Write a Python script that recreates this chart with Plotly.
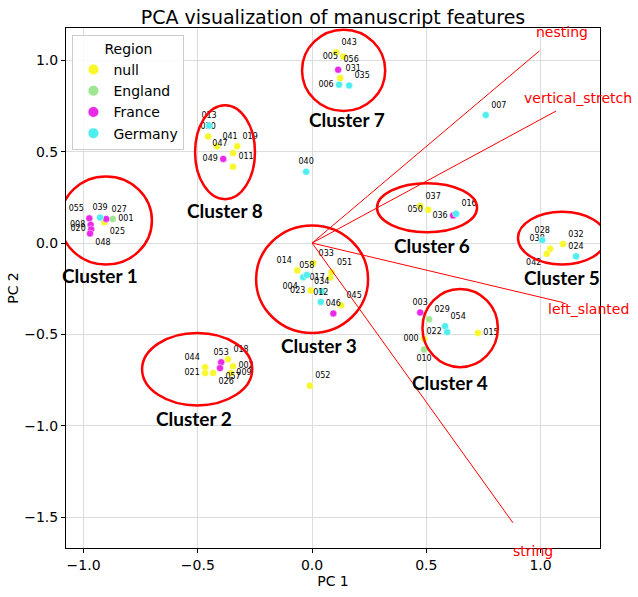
import plotly.graph_objects as go

# ---------------- data ----------------
ids = ["055","039","027","001","025","008","020","048",
       "043","005","056","031","006","035",
       "013","030","041","019","047","049","011",
       "004","058","017","023","034","012","045","046","033","014","051",
       "037","050","036","016",
       "028","032","038","042","024",
       "003","029","054","015","022","000","010",
       "044","053","018","021","057","002","026","009",
       "040","052","007"]
pc1 = [-0.975,-0.928,-0.901,-0.872,-0.909,-0.969,-0.967,-0.972,
       0.105,0.137,0.114,0.123,0.118,0.162,
       -0.451,-0.455,-0.416,-0.328,-0.346,-0.389,-0.346,
       -0.039,-0.023,0.079,-0.006,0.042,0.038,0.127,0.093,0.005,-0.065,0.085,
       0.473,0.508,0.617,0.630,
       1.007,1.098,1.042,1.027,1.155,
       0.473,0.512,0.582,0.726,0.591,0.490,0.490,
       -0.468,-0.398,-0.368,-0.468,-0.403,-0.346,-0.433,-0.355,
       -0.026,-0.010,0.760]
pc2 = [0.135,0.139,0.132,0.132,0.114,0.100,0.075,0.052,
       1.044,1.020,0.948,0.902,0.866,0.862,
       0.642,0.583,0.529,0.529,0.492,0.460,0.417,
       -0.187,-0.175,-0.189,-0.260,-0.264,-0.322,-0.341,-0.385,-0.110,-0.150,-0.160,
       0.203,0.182,0.150,0.160,
       0.016,-0.005,-0.032,-0.059,-0.073,
       -0.380,-0.417,-0.455,-0.492,-0.487,-0.524,-0.583,
       -0.679,-0.652,-0.636,-0.711,-0.684,-0.674,-0.711,-0.711,
       0.390,-0.780,0.700]
region = ["France","Germany","France","England","null","France","France","France",
          "null","null","France","null","Germany","Germany",
          "Germany","null","null","null","null","France","null",
          "Germany","Germany","null","null","Germany","Germany","null","France","null","null","null",
          "null","null","France","Germany",
          "Germany","null","null","null","Germany",
          "France","England","Germany","null","Germany","null","England",
          "null","France","null","null","France","null","null","null",
          "Germany","null","Germany"]
text_pos = ["top left","top center","top right","middle right","bottom right","middle left","middle left","bottom right",
            "top right","middle left","top right","top right","middle left","top right",
            "top center","top center","top right","top right","top left","middle left","top right",
            "bottom left","top center","middle left","middle left","top center","top center","top right","top center","top right","top left","top right",
            "top right","middle left","middle left","top right",
            "top center","top right","top left","bottom left","top center",
            "top center","top right","top right","middle right","middle left","middle left","bottom center",
            "top left","top center","top right","middle left","bottom right","middle right","bottom right","middle right",
            "top center","top right","top right"]

regions = ["null","England","France","Germany"]
region_colors = ["#f7f72a","#9ee68f","#e82ae8","#4eeeee"]

# biplot loadings
features = ["nesting","vertical_stretch","left_slanted","string"]
load_x = [0.995, 1.068, 1.100, 0.879]
load_y = [1.051, 0.722, -0.326, -1.530]
label_xshift = [0, -3, 0, 0]

# cluster ellipses (centre, radii) and label anchors
clusters = ["Cluster 1","Cluster 2","Cluster 3","Cluster 4","Cluster 5","Cluster 6","Cluster 7","Cluster 8"]
cl_cx = [-0.902,-0.503,0.000,0.648,1.094,0.503,0.138,-0.381]
cl_cy = [0.123,-0.690,-0.198,-0.465,0.027,0.193,0.944,0.497]
cl_rx = [0.201,0.241,0.245,0.165,0.193,0.219,0.182,0.131]
cl_ry = [0.241,0.198,0.294,0.214,0.144,0.134,0.222,0.257]
cl_lx = [-0.928,-0.516,0.030,0.604,1.094,0.525,0.153,-0.381]
cl_ly = [-0.180,-0.957,-0.558,-0.761,-0.187,-0.011,0.674,0.176]

X_RANGE = [-1.077, 1.26]
Y_RANGE = [-1.668, 1.176]

fig = go.Figure()

for r, c in zip(regions, region_colors):
    idx = [i for i, g in enumerate(region) if g == r]
    fig.add_trace(go.Scatter(
        x=[pc1[i] for i in idx], y=[pc2[i] for i in idx],
        text=[ids[i] for i in idx], textposition=[text_pos[i] for i in idx],
        mode="markers+text", name=r,
        marker=dict(color=c, size=7, line=dict(color="rgba(255,255,255,0.9)", width=0.5)),
        textfont=dict(family="DejaVu Sans", size=8, color="black"),
        cliponaxis=False,
    ))

shapes = []
annotations = []
for fx, fy, name, xs in zip(load_x, load_y, features, label_xshift):
    shapes.append(dict(type="line", xref="x", yref="y", x0=0, y0=0, x1=fx, y1=fy,
                       line=dict(color="red", width=1)))
    # label at 1.1 x the loading, expressed in paper units so it is drawn even outside the axes
    px = (fx * 1.1 - X_RANGE[0]) / (X_RANGE[1] - X_RANGE[0])
    py = (fy * 1.1 - Y_RANGE[0]) / (Y_RANGE[1] - Y_RANGE[0])
    annotations.append(dict(x=px, y=py, xref="paper", yref="paper", text=name, xshift=xs,
                            xanchor="center", yanchor="middle",
                            showarrow=False, font=dict(family="DejaVu Sans", size=14, color="red")))

for name, cx, cy, rx, ry, lx, ly in zip(clusters, cl_cx, cl_cy, cl_rx, cl_ry, cl_lx, cl_ly):
    shapes.append(dict(type="circle", xref="x", yref="y", x0=cx - rx, x1=cx + rx, y0=cy - ry, y1=cy + ry,
                       line=dict(color="red", width=2.5)))
    annotations.append(dict(x=lx, y=ly, xref="x", yref="y", text="<b>" + name + "</b>",
                            xanchor="center", yanchor="middle",
                            showarrow=False, font=dict(family="Lato", size=19, color="black")))

axis_common = dict(showgrid=True, gridcolor="#dcdcdc", gridwidth=1.2, zeroline=False,
                   showline=True, linecolor="black", linewidth=1, mirror=True,
                   ticks="outside", ticklen=4, tickcolor="black",
                   tickfont=dict(family="DejaVu Sans", size=14, color="black"))

fig.update_layout(
    width=638, height=597,
    margin=dict(l=66, r=38, t=28, b=37),
    plot_bgcolor="white", paper_bgcolor="white",
    font=dict(family="DejaVu Sans", color="black"),
    title=dict(text="PCA visualization of manuscript features", xref="paper", x=0.5, xanchor="center",
               yref="container", y=0.982, yanchor="top",
               font=dict(family="DejaVu Sans", size=19, color="black")),
    xaxis=dict(range=X_RANGE, tickvals=[-1.0, -0.5, 0.0, 0.5, 1.0],
               ticktext=["\u22121.0", "\u22120.5", "0.0", "0.5", "1.0"],
               title=dict(text="PC 1", font=dict(family="DejaVu Sans", size=14, color="black"), standoff=2), **axis_common),
    yaxis=dict(range=Y_RANGE, tickvals=[-1.5, -1.0, -0.5, 0.0, 0.5, 1.0],
               ticktext=["\u22121.5", "\u22121.0", "\u22120.5", "0.0", "0.5", "1.0"],
               title=dict(text="PC 2", font=dict(family="DejaVu Sans", size=14, color="black"), standoff=2), **axis_common),
    legend=dict(title=dict(text="Region", side="top center", font=dict(family="DejaVu Sans", size=14, color="black")),
                x=0.012, y=0.987, xanchor="left", yanchor="top",
                bgcolor="rgba(255,255,255,0.85)", bordercolor="#cccccc", borderwidth=1,
                font=dict(family="DejaVu Sans", size=14, color="black"), itemsizing="constant"),
    shapes=shapes, annotations=annotations,
)

fig.write_html("out.html", config={"displayModeBar": False},
               post_script="document.body.style.margin='0px';document.body.style.overflow='hidden';")
